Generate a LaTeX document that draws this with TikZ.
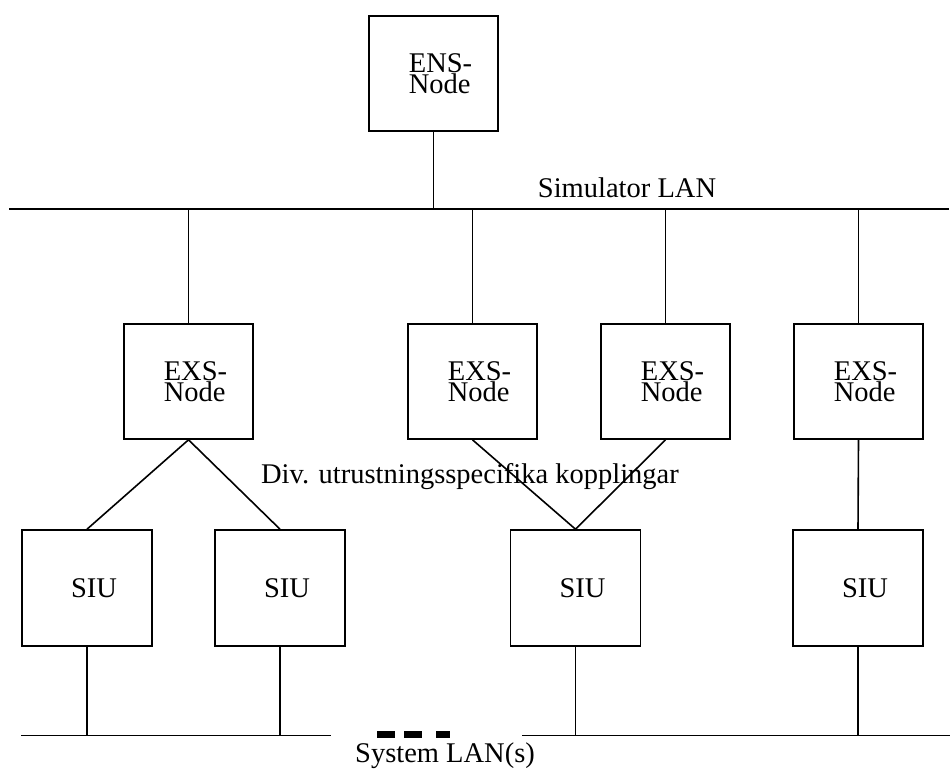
\documentclass[tikz,border=0pt]{standalone}
\usepackage{fontspec}
\setmainfont{Liberation Serif}
\newcommand{\shft}{\hspace*{14pt}}
\begin{document}
\begin{tikzpicture}[x=1pt,y=-1pt,line width=1.6pt,
  box/.style={draw,rectangle,minimum width=129pt,minimum height=115pt,inner sep=0pt,align=left,
    font=\fontsize{28.5}{21.5}\selectfont},
  siubox/.style={box,minimum width=130pt,minimum height=116pt},
  txt/.style={inner sep=0pt,anchor=base,font=\fontsize{28.5}{21.5}\selectfont},
  dashseg/.style={line width=7pt}]
\useasboundingbox (0,0) rectangle (950,772);
% boxes
\node[box] (ens) at (433.5,73.5) {\raisebox{-3pt}{\shft ENS-}\\\raisebox{-3pt}{\shft Node}};
\node[box] (exs1) at (188.5,381.5) {\shft EXS-\\\shft Node};
\node[box] (exs2) at (472.5,381.5) {\shft EXS-\\\shft Node};
\node[box] (exs3) at (665.5,381.5) {\shft EXS-\\\shft Node};
\node[box] (exs4) at (858.5,381.5) {\shft EXS-\\\shft Node};
\node[siubox] (siu1) at (87,588) {\shft SIU};
\node[siubox] (siu2) at (280,588) {\shft SIU};
\node[siubox] (siu3) at (575.5,588) {\shft SIU};
\node[siubox] (siu4) at (858,588) {\shft SIU};
% labels
\node[txt] (simlan) at (627,197) {Simulator LAN};
\node[txt] (div) at (470,483) {Div. utrustningsspecifika kopplingar};
\node[txt] (syslan) at (445,762) {System LAN(s)};
% simulator LAN
\coordinate (lanL) at (9,209);
\coordinate (lanR) at (949,209);
\draw (lanL) -- (lanR);
\draw (ens.south) -- (ens.south |- lanL);
\draw (exs1.north) -- (exs1.north |- lanL);
\draw (exs2.north) -- (exs2.north |- lanL);
\draw (exs3.north) -- (exs3.north |- lanL);
\draw (exs4.north) -- (exs4.north |- lanL);
% EXS to SIU
\draw (siu1.north) -- (exs1.south) -- (siu2.north);
\draw (exs2.south) -- (siu3.north) -- (exs3.south);
\draw (exs4.south) -- (siu4.north);
% system LANs
\coordinate (sysL1) at (21,735.5);
\coordinate (sysL2) at (331,735.5);
\coordinate (sysR1) at (522,735.5);
\coordinate (sysR2) at (950,735.5);
\draw (sysL1) -- (sysL2);
\draw (sysR1) -- (sysR2);
\draw (siu1.south) -- (siu1.south |- sysL1);
\draw (siu2.south) -- (siu2.south |- sysL1);
\draw (siu3.south) -- (siu3.south |- sysR1);
\draw (siu4.south) -- (siu4.south |- sysR1);
% gap dashes
\coordinate (d1a) at (377,734.5); \coordinate (d1b) at (395,734.5);
\coordinate (d2a) at (404,734.5); \coordinate (d2b) at (422,734.5);
\coordinate (d3a) at (436,734.5); \coordinate (d3b) at (450,734.5);
\draw[dashseg] (d1a) -- (d1b);
\draw[dashseg] (d2a) -- (d2b);
\draw[dashseg] (d3a) -- (d3b);
\end{tikzpicture}
\end{document}
